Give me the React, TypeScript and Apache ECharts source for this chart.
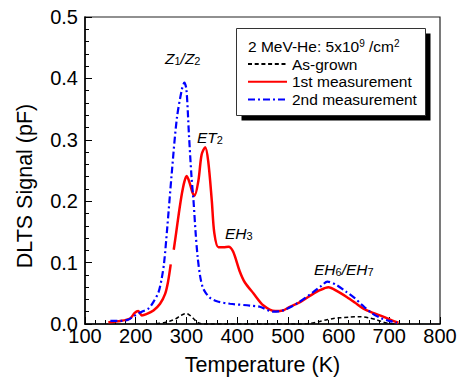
import React, { useEffect, useRef } from "react";
import * as echarts from "echarts";

const FONT = "'Liberation Sans', Arial, Helvetica, sans-serif";

// As-grown sample
const asGrownT = [240, 255, 268, 280, 287, 294, 300.5, 307, 313.6, 323, 335, 380, 450, 520, 545, 563, 577, 590, 603, 620, 642, 660, 675, 688, 700, 715];
const asGrownV = [0.001, 0.002, 0.005, 0.009, 0.013, 0.016, 0.017, 0.014, 0.009, 0.002, 0, 0, 0, 0, 0.001, 0.004, 0.007, 0.009, 0.01, 0.011, 0.012, 0.01, 0.007, 0.003, 0.001, 0];

// 1st measurement (null marks the break in the scan near 272 K)
const firstT = [146, 170, 189, 198, 205, 212, 221, 235, 248, 258, 264, 269, 272, 275, 280, 285, 291, 296, 300.5, 307, 312, 316, 323.5, 330, 337, 343, 350, 355, 363, 373, 383, 392, 405, 415, 432, 452, 475, 490, 504, 525, 544, 563, 580, 598, 616, 632, 649, 668, 688, 705, 718];
const firstV = [0.003, 0.005, 0.009, 0.018, 0.021, 0.014, 0.016, 0.022, 0.033, 0.049, 0.07, 0.097, null, 0.121, 0.15, 0.18, 0.212, 0.232, 0.241, 0.228, 0.214, 0.209, 0.233, 0.276, 0.288, 0.265, 0.201, 0.148, 0.125, 0.125, 0.126, 0.118, 0.086, 0.068, 0.05, 0.03, 0.021, 0.022, 0.028, 0.036, 0.046, 0.055, 0.06, 0.053, 0.044, 0.035, 0.025, 0.018, 0.012, 0.006, 0.002];

// 2nd measurement
const secondT = [150, 170, 185, 199, 212, 225, 235, 245, 251, 256, 262, 271, 281, 291, 296, 300, 305, 310, 314, 318, 322, 327, 332, 337, 346, 360, 386, 425, 445, 471, 490, 517, 550, 566, 578, 595, 616, 632, 645, 665, 685, 700, 715];
const secondV = [0.005, 0.005, 0.007, 0.014, 0.02, 0.025, 0.036, 0.052, 0.073, 0.1, 0.155, 0.245, 0.334, 0.382, 0.393, 0.382, 0.308, 0.24, 0.2, 0.15, 0.11, 0.078, 0.06, 0.052, 0.043, 0.037, 0.033, 0.03, 0.028, 0.02, 0.022, 0.033, 0.052, 0.062, 0.069, 0.064, 0.052, 0.042, 0.032, 0.018, 0.009, 0.005, 0.002];

const seriesNames = ["As-grown", "1st measurement", "2nd measurement"];
const xTicks = { min: 100, max: 800, interval: 100 };
const yTicks = { min: 0, max: 0.5, interval: 0.1 };

const pairs = (t: number[], v: (number | null)[]) => t.map((x, i) => [x, v[i]]);

// italic level labels with subscripts
const labelRich = {
  i: { fontFamily: FONT, fontStyle: "italic", fontSize: 15.5, lineHeight: 16, fill: "#000" },
  s: { fontFamily: FONT, fontSize: 11, lineHeight: 4, verticalAlign: "bottom", fill: "#000" },
};
const levelLabel = (x: number, y: number, text: string) => ({
  type: "text",
  x,
  y,
  z: 10,
  style: { text, rich: labelRich, align: "left", verticalAlign: "top" },
});

export default function App() {
  const ref = useRef<HTMLDivElement>(null);

  useEffect(() => {
    if (!ref.current) return;
    const chart = echarts.init(ref.current, null, { renderer: "svg" });
    chart.setOption({
      animation: false,
      backgroundColor: "#fff",
      textStyle: { fontFamily: FONT },
      grid: {
        left: 85,
        right: 20,
        top: 17,
        bottom: 52,
        show: true,
        borderColor: "#222",
        borderWidth: 1.2,
        backgroundColor: "transparent",
      },
      xAxis: {
        type: "value",
        ...xTicks,
        name: "Temperature (K)",
        nameLocation: "middle",
        nameGap: 30,
        nameTextStyle: { fontFamily: FONT, fontSize: 21.5, color: "#000" },
        axisLine: { show: true, onZero: false, lineStyle: { color: "#000", width: 1.5 } },
        axisTick: { show: true, inside: true, length: 7, lineStyle: { color: "#000", width: 1 } },
        minorTick: { show: true, splitNumber: 5, length: 4, lineStyle: { color: "#000", width: 1 } },
        axisLabel: { fontFamily: FONT, fontSize: 20, lineHeight: 12, color: "#000", margin: 6 },
        splitLine: { show: false },
      },
      yAxis: {
        type: "value",
        ...yTicks,
        axisLine: { show: true, onZero: false, lineStyle: { color: "#000", width: 1.5 } },
        axisTick: { show: true, inside: true, length: 7, lineStyle: { color: "#000", width: 1 } },
        minorTick: { show: true, splitNumber: 5, length: 4, lineStyle: { color: "#000", width: 1 } },
        axisLabel: {
          fontFamily: FONT,
          fontSize: 20,
          lineHeight: 12,
          color: "#000",
          margin: 7,
          formatter: (v: number) => v.toFixed(1),
        },
        splitLine: { show: false },
      },
      legend: {
        orient: "vertical",
        left: 247,
        top: 56,
        z: 20,
        itemWidth: 39,
        itemHeight: 14,
        itemGap: 1.7,
        padding: 0,
        itemStyle: { color: "transparent", borderWidth: 0, borderColor: "transparent", opacity: 0 },
        textStyle: { fontFamily: FONT, fontSize: 15.5, lineHeight: 16, color: "#000" },
        data: seriesNames,
      },
      graphic: [
        // legend frame with drop shadow
        { type: "rect", z: 15, shape: { x: 241.5, y: 33.5, width: 189, height: 87 }, style: { fill: "#000" } },
        { type: "rect", z: 16, shape: { x: 236.5, y: 28.5, width: 189, height: 87 }, style: { fill: "#fff", stroke: "#333", lineWidth: 1 } },
        {
          type: "text",
          x: 248,
          y: 38.3,
          z: 21,
          style: {
            text: "{m|2 MeV-He: 5x10}{p|9}{m| /cm}{p|2}",
            align: "left",
            verticalAlign: "top",
            rich: {
              m: { fontFamily: FONT, fontSize: 15.5, lineHeight: 16, fill: "#000" },
              p: { fontFamily: FONT, fontSize: 10, lineHeight: 4, verticalAlign: "top", fill: "#000" },
            },
          },
        },
        levelLabel(165, 50, "{i|Z}{s|1}{i|/Z}{s|2}"),
        levelLabel(197, 129.3, "{i|ET}{s|2}"),
        levelLabel(225, 225, "{i|EH}{s|3}"),
        levelLabel(314, 261.6, "{i|EH}{s|6}{i|/EH}{s|7}"),
        {
          type: "text",
          x: 25,
          y: 186,
          rotation: Math.PI / 2,
          style: {
            text: "DLTS Signal (pF)",
            fontFamily: FONT,
            fontSize: 21.5,
            fill: "#000",
            align: "center",
            verticalAlign: "middle",
          },
        },
      ],
      series: [
        {
          name: seriesNames[0],
          type: "line",
          data: pairs(asGrownT, asGrownV),
          symbol: "none",
          smooth: 0.3,
          z: 3,
          lineStyle: { color: "#000", width: 1.5, type: [4, 2.7] },
          itemStyle: { color: "#000" },
        },
        {
          name: seriesNames[1],
          type: "line",
          data: pairs(firstT, firstV),
          symbol: "none",
          smooth: 0.3,
          connectNulls: false,
          z: 4,
          lineStyle: { color: "#ff0000", width: 2.5 },
          itemStyle: { color: "#ff0000" },
        },
        {
          name: seriesNames[2],
          type: "line",
          data: pairs(secondT, secondV),
          symbol: "none",
          smooth: 0.3,
          z: 5,
          lineStyle: { color: "#0000ff", width: 2.2, type: [7, 3, 2, 3] },
          itemStyle: { color: "#0000ff" },
        },
      ],
    });
    return () => chart.dispose();
  }, []);

  return (
    <div
      ref={ref}
      style={{ position: "absolute", left: 0, top: 0, width: 460, height: 381 }}
    />
  );
}
